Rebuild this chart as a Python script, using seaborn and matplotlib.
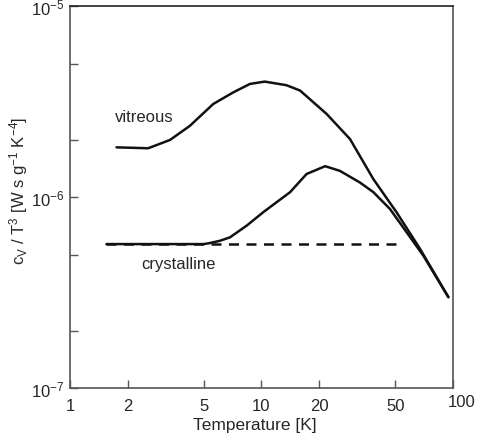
import numpy as np
import pandas as pd
import seaborn as sns
from matplotlib import pyplot as plt
from matplotlib.ticker import NullLocator

# data (T in K, cV/T^3 in W s g^-1 K^-4)
vit_T = [1.75, 2.56, 3.33, 4.23, 5.60, 7.12, 8.71, 10.4, 13.5, 15.9, 21.9, 29.0, 38.4, 50.8, 67.3, 94.6]
vit_c = [1.82e-6, 1.80e-6, 1.99e-6, 2.36e-6, 3.07e-6, 3.53e-6, 3.91e-6, 4.02e-6, 3.85e-6, 3.61e-6,
         2.72e-6, 2.01e-6, 1.24e-6, 8.3e-7, 5.35e-7, 2.99e-7]

cry_T = [1.55, 5.0, 5.38, 6.07, 6.85, 8.4, 10.2, 14.1, 17.2, 21.5, 25.7, 32.7, 38.4, 46.9, 57.3, 70.0, 94.6]
cry_c = [5.67e-7, 5.67e-7, 5.74e-7, 5.90e-7, 6.15e-7, 7.1e-7, 8.32e-7, 1.06e-6, 1.32e-6, 1.45e-6,
         1.37e-6, 1.19e-6, 1.06e-6, 8.65e-7, 6.53e-7, 4.93e-7, 2.99e-7]

debye_T = [1.55, 53.9]
debye_c = [5.67e-7, 5.67e-7]

x_ticks = [1, 2, 5, 10, 20, 50, 100]
x_labels = ['1', '2', '5', '10', '20', '50', '']
y_ticks = [1e-7, 2e-7, 5e-7, 1e-6, 2e-6, 5e-6, 1e-5]
y_labels = ['$10^{-7}$', '', '', '$10^{-6}$', '', '', '$10^{-5}$']

sns.set_style('ticks')
plt.rcParams['font.family'] = ['Liberation Sans', 'DejaVu Sans']
plt.rcParams['mathtext.default'] = 'regular'

fig = plt.figure(figsize=(4.78, 4.39), dpi=100)
ax = fig.add_axes([0.1464, 0.1139, 0.8013, 0.8701])

line_kw = dict(ax=ax, color='#111111', lw=1.8, estimator=None)
sns.lineplot(x=vit_T, y=vit_c, **line_kw)
sns.lineplot(x=cry_T, y=cry_c, **line_kw)
sns.lineplot(x=debye_T, y=debye_c, linestyle=(0, (4, 3)), **line_kw)

ax.set_xscale('log')
ax.set_yscale('log')
ax.set_xlim(1, 100)
ax.set_ylim(1e-7, 1e-5)

ax.set_xticks(x_ticks)
ax.set_xticklabels(x_labels)
ax.set_yticks(y_ticks)
ax.set_yticklabels(y_labels)
ax.xaxis.set_minor_locator(NullLocator())
ax.yaxis.set_minor_locator(NullLocator())
ax.tick_params(direction='in', length=6, width=1, color='#555555', labelsize=12)
ax.tick_params(axis='x', pad=7)
ax.tick_params(axis='y', pad=4)
# the "100" label sits a bit higher and to the right in the reference
ax.annotate('100', xy=(100, 1e-7), xytext=(6.5, -4.5), textcoords='offset points',
            ha='center', va='top', fontsize=12)

for s in ax.spines.values():
    s.set_color('#555555')
    s.set_linewidth(1.2)
ax.spines['top'].set_color('#222222')

ax.text(1.72, 2.65e-6, 'vitreous', fontsize=12, ha='left', va='center')
ax.text(3.69, 4.46e-7, 'crystalline', fontsize=12, ha='center', va='center')

ax.set_xlabel('Temperature [K]', fontsize=12.5)
ax.xaxis.set_label_coords(0.483, -0.075)
ax.set_ylabel('c$_V$ / T$^3$ [W s g$^{-1}$ K$^{-4}$]', fontsize=12)
ax.yaxis.set_label_coords(-0.105, 0.52)

fig.savefig('out.png', dpi=100)
